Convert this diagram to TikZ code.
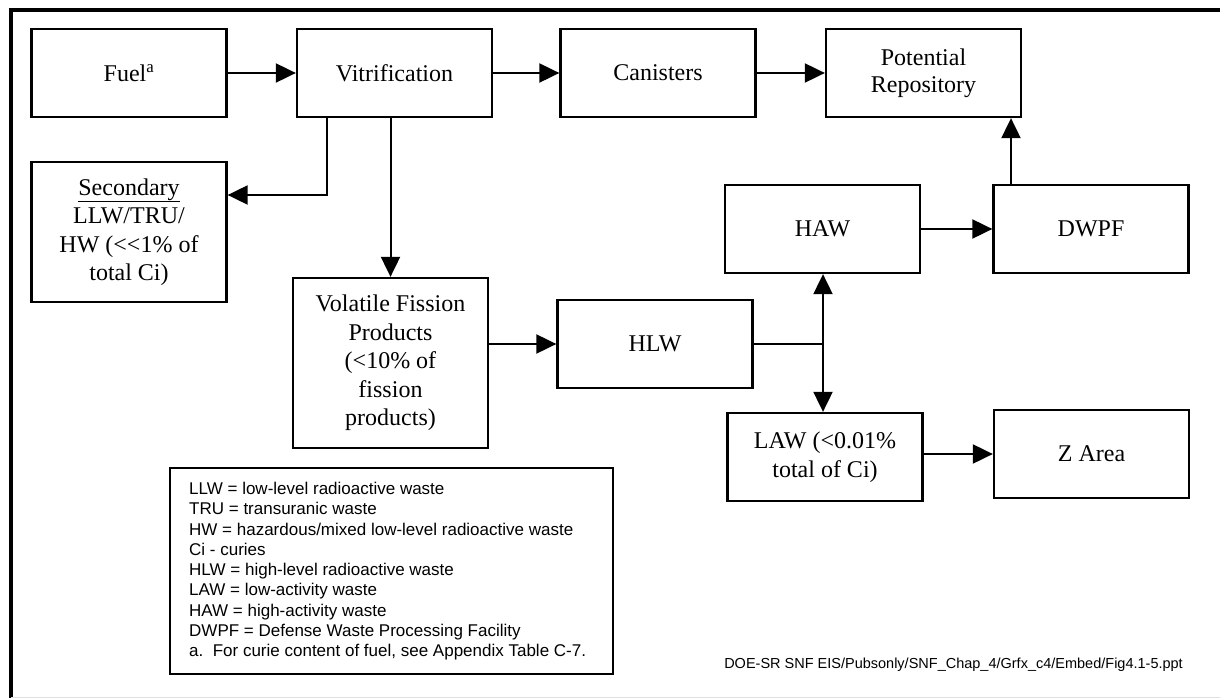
\documentclass[tikz,border=0pt]{standalone}
\usepackage{fontspec}
\setmainfont{Liberation Serif}
\newfontfamily\legendfont{Liberation Sans}
\usetikzlibrary{arrows.meta}
\begin{document}
\begin{tikzpicture}[x=1pt,y=-1pt,
  box/.style={draw, line width=2.3pt, minimum width=195pt, minimum height=88pt,
    align=center, inner sep=0pt, font=\fontsize{24}{28.5}\selectfont},
  conn/.style={line width=2pt},
  tip/.tip={Triangle[length=20pt,width=19pt]},
  arr/.style={conn, -tip},
  frame/.style={line width=3.5pt},
  legendtxt/.style={anchor=north west, inner sep=0pt, align=left,
    font=\legendfont\fontsize{17}{20.25}\selectfont},
]
\useasboundingbox (0,0) rectangle (1220,698);
\fill[white] (0,0) rectangle (1220,698);

% outer frame
\coordinate (ftr) at (1220,10);
\coordinate (ftl) at (11,10);
\coordinate (fbl) at (11,698);
\draw[frame] (ftr) -- (ftl) -- (fbl);
\draw[gray!25, line width=1pt] (11,697) -- (1220,697);

% boxes
\node[box] (fuel) at (129,73) {Fuel\textsuperscript{a}};
\node[box] (vit)  at (394.5,73) {Vitrification};
\node[box] (can)  at (658,73) {Canisters};
\node[box] (rep)  at (923.5,73) {\raisebox{3pt}{\begin{tabular}{@{}c@{}}Potential\\[-1.5pt]Repository\end{tabular}}};
\node[box, minimum height=140pt] (sec) at (129,232)
  {\underline{Secondary}\\LLW/TRU/\\HW (<{}<1\% of\\total Ci)};
\node[box, minimum height=170pt] (vfp) at (390.5,363)
  {Volatile Fission\\Products\\(<10\% of\\fission\\products)};
\node[box] (hlw)  at (655,344) {HLW};
\node[box] (haw)  at (822.5,229) {HAW};
\node[box] (dwpf) at (1091,229) {DWPF};
\node[box] (law)  at (825,457) {LAW (<0.01\%\\total of Ci)};
\node[box] (z)    at (1091.5,454) {Z Area};

% connectors
\draw[arr] (fuel) -- (vit);
\draw[arr] (vit) -- (can);
\draw[arr] (can) -- (rep);
\coordinate (v1) at (327,195);
\draw[arr] (vit.south -| v1) |- (sec.east |- v1);
\draw[arr] (vit.south -| vfp.north) -- (vfp.north);
\draw[arr] (vfp.east |- hlw) -- (hlw.west);
\coordinate (j) at (823,344);
\draw[conn] (hlw.east) -- (j);
\draw[conn, tip-tip] (haw.south -| j) -- (law.north -| j);
\draw[arr] (haw) -- (dwpf);
\coordinate (d1) at (1011,0);
\draw[arr] (dwpf.north -| d1) -- (rep.south -| d1);
\draw[arr] (law.east |- z) -- (z.west);

% legend
\node[draw, line width=2.3pt, minimum width=443pt, minimum height=206pt, inner sep=0pt]
  (legbox) at (391.5,571) {};
\node[legendtxt] (legtext) at (189,482) {LLW = low-level radioactive waste\\
TRU = transuranic waste\\
HW = hazardous/mixed low-level radioactive waste\\
Ci - curies\\
HLW = high-level radioactive waste\\
LAW = low-activity waste\\
HAW = high-activity waste\\
DWPF = Defense Waste Processing Facility\\
a.\ \ For curie content of fuel, see Appendix Table C-7.};

% footer
\node[anchor=base east, inner sep=0pt, font=\legendfont\fontsize{14.5}{17}\selectfont]
  (foot) at (1183,668) {DOE-SR SNF EIS/Pubsonly/SNF\_Chap\_4/Grfx\_c4/Embed/Fig4.1-5.ppt};
\end{tikzpicture}
\end{document}
